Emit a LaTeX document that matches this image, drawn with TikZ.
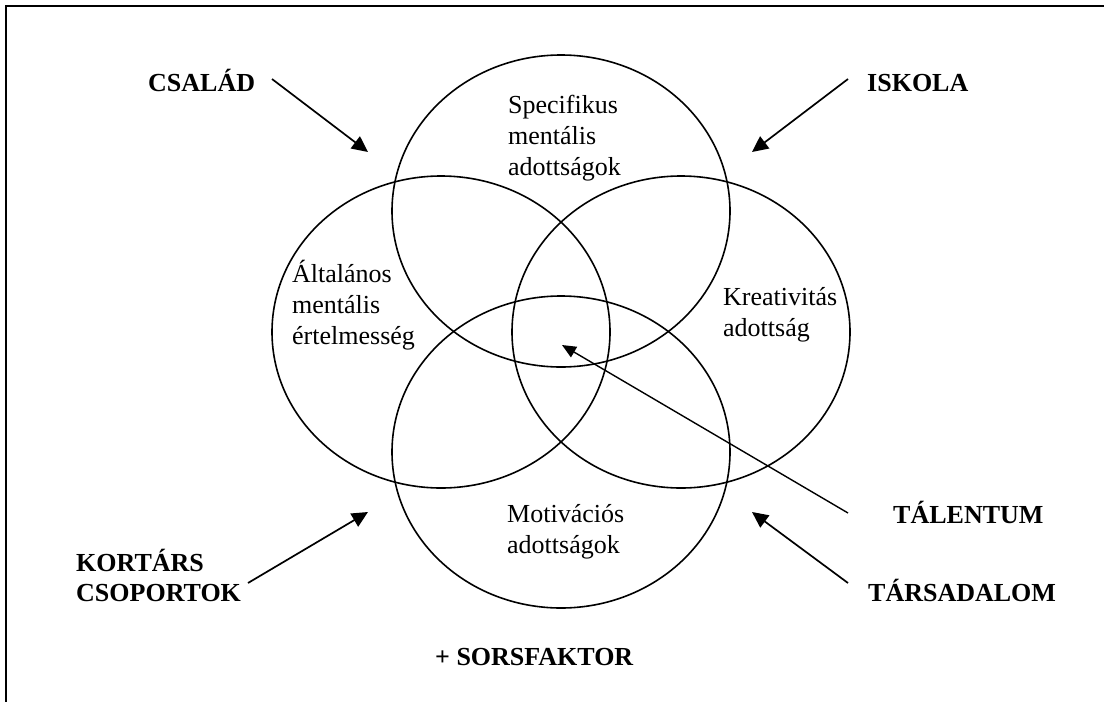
\documentclass[tikz,border=0pt]{standalone}
\usepackage{fontspec}
\setmainfont{Liberation Serif}
\usetikzlibrary{arrows.meta}
\begin{document}
\begin{tikzpicture}[x=1pt,y=-1pt,
  venn/.style={line width=1.6pt},
  lbl/.style={anchor=base west,inner sep=0pt,align=left,font=\fontsize{26}{31}\selectfont},
  blbl/.style={anchor=base west,inner sep=0pt,align=left,font=\fontsize{26}{30}\selectfont\bfseries},
  arr/.style={line width=1.7pt,-{Triangle[length=16pt,width=15pt]}},
  tarr/.style={line width=1.4pt,-{Triangle[length=14pt,width=12pt]}}]
\useasboundingbox (0,0) rectangle (1104,702);
% frame
\draw[line width=2pt] (6,702) -- (6,6) -- (1104,6);
% ellipses
\coordinate (cT) at (561,211);
\coordinate (cL) at (441,332);
\coordinate (cR) at (681,332);
\coordinate (cB) at (561,452);
\draw[venn] (cT) ellipse [x radius=169, y radius=156];
\draw[venn] (cL) ellipse [x radius=169, y radius=156];
\draw[venn] (cR) ellipse [x radius=169, y radius=156];
\draw[venn] (cB) ellipse [x radius=169, y radius=156];
% texts in ellipses (base anchor = baseline of the last line)
\node[lbl] (spec) at (508,175) {Specifikus\\mentális\\adottságok};
\node[lbl] (alt) at (292,344) {Általános\\mentális\\értelmesség};
\node[lbl] (kre) at (723,336) {Kreativitás\\adottság};
\node[lbl] (mot) at (507,553) {Motivációs\\adottságok};
% outer labels
\node[blbl] (csalad) at (148,91) {CSALÁD};
\node[blbl] (iskola) at (867,91) {ISKOLA};
\node[blbl] (kortars) at (76,601) {KORTÁRS\\CSOPORTOK};
\node[blbl] (talentum) at (893,523) {TÁLENTUM};
\node[blbl] (tarsadalom) at (868,601) {TÁRSADALOM};
\node[blbl] (sors) at (435,665) {+ SORSFAKTOR};
% arrow ends
\coordinate (csA) at (272,79);  \coordinate (csB) at (368,152);
\coordinate (isA) at (848,79);  \coordinate (isB) at (752,152);
\coordinate (koA) at (248,583); \coordinate (koB) at (368,512);
\coordinate (taA) at (848,583); \coordinate (taB) at (752,512);
\coordinate (tlA) at (848,513); \coordinate (tlB) at (562,345);
\draw[arr] (csA) -- (csB);
\draw[arr] (isA) -- (isB);
\draw[arr] (koA) -- (koB);
\draw[arr] (taA) -- (taB);
\draw[tarr] (tlA) -- (tlB);
\end{tikzpicture}
\end{document}
